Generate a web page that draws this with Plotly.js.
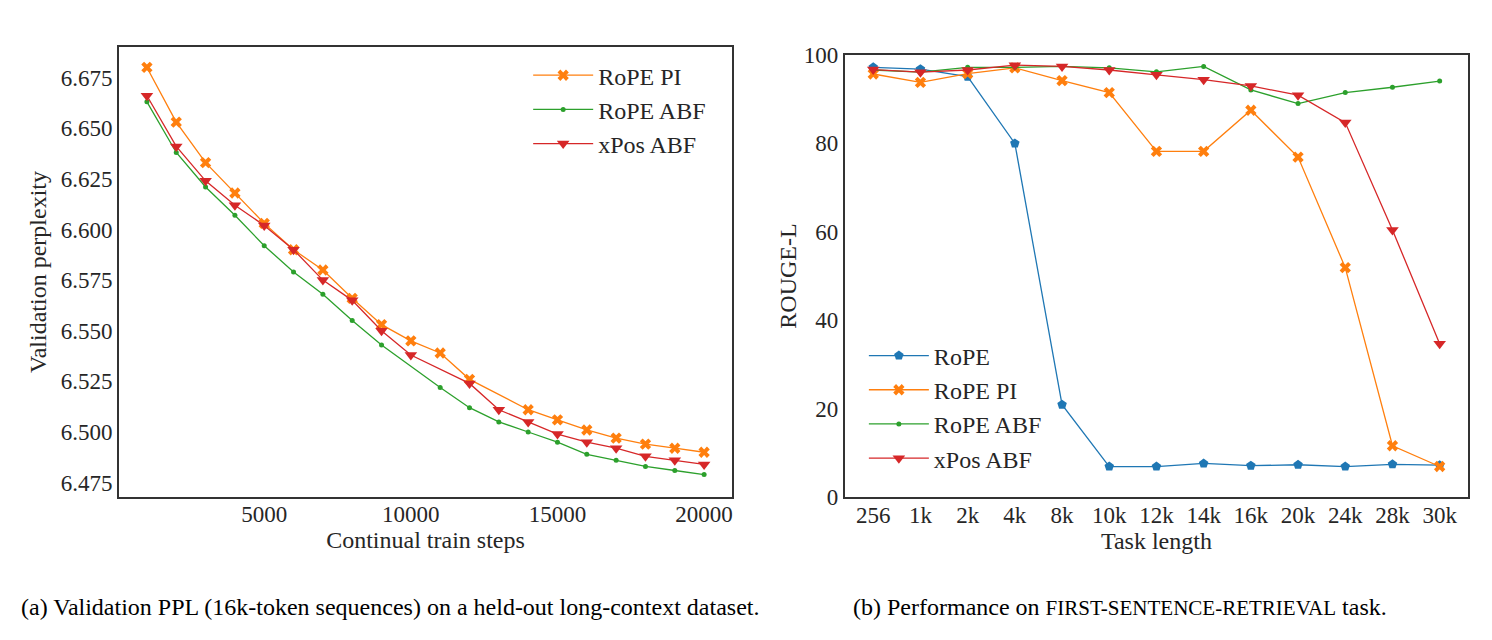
<!DOCTYPE html>
<html>
<head>
<meta charset="utf-8">
<script src="https://cdn.plot.ly/plotly-3.0.1.min.js"></script>
<style>html,body{margin:0;padding:0;background:#fff;}#chart{width:1492px;height:640px;}</style>
</head>
<body>
<div id="chart"></div>
<script>
// ---- Panel (a): validation perplexity vs continual train steps ----
const stepsPI  = [1000,2000,3000,4000,5000,6000,7000,8000,9000,10000,11000,12000,14000,15000,16000,17000,18000,19000,20000];
const pplPI    = [6.680,6.653,6.633,6.618,6.603,6.590,6.580,6.566,6.553,6.545,6.539,6.526,6.511,6.506,6.501,6.497,6.494,6.492,6.490];
const stepsABF = [1000,2000,3000,4000,5000,6000,7000,8000,9000,11000,12000,13000,14000,15000,16000,17000,18000,19000,20000];
const pplABF   = [6.663,6.638,6.621,6.607,6.592,6.579,6.568,6.555,6.543,6.522,6.512,6.505,6.500,6.495,6.489,6.486,6.483,6.481,6.479];
const stepsXPos= [1000,2000,3000,4000,5000,6000,7000,8000,9000,10000,12000,13000,14000,15000,16000,17000,18000,19000,20000];
const pplXPos  = [6.666,6.641,6.624,6.612,6.602,6.590,6.575,6.565,6.550,6.538,6.524,6.511,6.505,6.499,6.495,6.492,6.488,6.486,6.484];

// ---- Panel (b): ROUGE-L vs task length ----
const taskLengths = ["256","1k","2k","4k","8k","10k","12k","14k","16k","20k","24k","28k","30k"];
const rougeRoPE    = [97.2,96.8,95.1,80.0,20.9,6.9,6.9,7.6,7.1,7.3,6.9,7.4,7.2];
const rougeRoPEPI  = [95.7,93.8,95.8,97.1,94.2,91.5,78.2,78.2,87.5,76.9,51.9,11.6,6.9];
const rougeRoPEABF = [96.6,96.1,97.2,97.2,97.4,97.1,96.2,97.4,92.1,89.0,91.5,92.7,94.1];
const rougeXPosABF = [96.7,96.1,96.6,97.7,97.4,96.6,95.5,94.4,93.0,90.9,84.7,60.4,34.7];

const yTicksA = [6.475,6.500,6.525,6.550,6.575,6.600,6.625,6.650,6.675];
const xTicksA = [5000,10000,15000,20000];
const yTicksB = [0,20,40,60,80,100];

const C = {blue:'#1f77b4', orange:'#ff7f0e', green:'#2ca02c', red:'#d62728'};
const FONT = '"Liberation Serif", "Times New Roman", serif';
const TXT = '#262626';

function tr(x, y, name, color, symbol, size, xa, ya, lg) {
  return {x:x, y:y, name:name, type:'scatter', mode:'lines+markers',
    xaxis:xa, yaxis:ya, legend:lg,
    line:{color:color, width:1.3},
    marker:{color:color, symbol:symbol, size:size, line:{width:0}}};
}

const data = [
  tr(stepsPI, pplPI, 'RoPE PI', C.orange, 'x', 10, 'x', 'y', 'legend'),
  tr(stepsABF, pplABF, 'RoPE ABF', C.green, 'circle', 5, 'x', 'y', 'legend'),
  tr(stepsXPos, pplXPos, 'xPos ABF', C.red, 'triangle-down', 11, 'x', 'y', 'legend'),
  tr(taskLengths, rougeRoPE, 'RoPE', C.blue, 'pentagon', 10, 'x2', 'y2', 'legend2'),
  tr(taskLengths, rougeRoPEPI, 'RoPE PI', C.orange, 'x', 10, 'x2', 'y2', 'legend2'),
  tr(taskLengths, rougeRoPEABF, 'RoPE ABF', C.green, 'circle', 5, 'x2', 'y2', 'legend2'),
  tr(taskLengths, rougeXPosABF, 'xPos ABF', C.red, 'triangle-down', 11, 'x2', 'y2', 'legend2')
];

const TICKF = {family:FONT, size:23, color:TXT};
const TITLEF = {family:FONT, size:24, color:TXT};
const axisCommon = {showline:true, mirror:true, linecolor:'#333', linewidth:2,
  showgrid:false, zeroline:false, ticks:'', ticklen:0, tickfont:TICKF};

const layout = {
  width:1492, height:640,
  margin:{l:0, r:0, t:0, b:0},
  paper_bgcolor:'#fff', plot_bgcolor:'#fff',
  font:{family:FONT, size:23, color:TXT},
  xaxis:Object.assign({}, axisCommon, {domain:[0.0798,0.4906], anchor:'y',
    range:[50,20950], tickvals:xTicksA, ticktext:xTicksA.map(String), ticklabelstandoff:-5,
    title:{text:'Continual train steps', font:TITLEF, standoff:2}}),
  yaxis:Object.assign({}, axisCommon, {domain:[0.2234,0.9266], anchor:'x',
    range:[6.4679,6.6901], tickvals:yTicksA, ticktext:yTicksA.map(v=>v.toFixed(3)),
    title:{text:'Validation perplexity', font:TITLEF, standoff:7}}),
  xaxis2:Object.assign({}, axisCommon, {domain:[0.5663,0.9839], anchor:'y2',
    type:'category', range:[-0.6,12.6], ticklabelstandoff:-4,
    title:{text:'Task length', font:TITLEF, standoff:2}}),
  yaxis2:Object.assign({}, axisCommon, {domain:[0.2234,0.9141], anchor:'x2',
    range:[0,100], tickvals:yTicksB, ticktext:yTicksB.map(String),
    title:{text:'ROUGE-L', font:TITLEF, standoff:0}}),
  legend:{x:0.354, y:0.917, xanchor:'left', yanchor:'top', bgcolor:'rgba(0,0,0,0)',
    font:{family:FONT,size:24,color:TXT}, tracegroupgap:0, itemwidth:60},
  legend2:{x:0.579, y:0.479, xanchor:'left', yanchor:'top', bgcolor:'rgba(0,0,0,0)',
    font:{family:FONT,size:24,color:TXT}, tracegroupgap:0, itemwidth:60},
  showlegend:true,
  annotations:[
    {text:'(a) Validation PPL (16k-token sequences) on a held-out long-context dataset.',
     xref:'paper', yref:'paper', x:390/1492, y:1-607/640, xanchor:'center', yanchor:'middle',
     showarrow:false, font:{family:FONT,size:24,color:'#000'}},
    {text:'(b) Performance on <span style="font-size:21px">FIRST-SENTENCE-RETRIEVAL</span> task.',
     xref:'paper', yref:'paper', x:1120/1492, y:1-607/640, xanchor:'center', yanchor:'middle',
     showarrow:false, font:{family:FONT,size:24,color:'#000'}}
  ]
};

Plotly.newPlot('chart', data, layout, {displayModeBar:false, staticPlot:true});
</script>
</body>
</html>
